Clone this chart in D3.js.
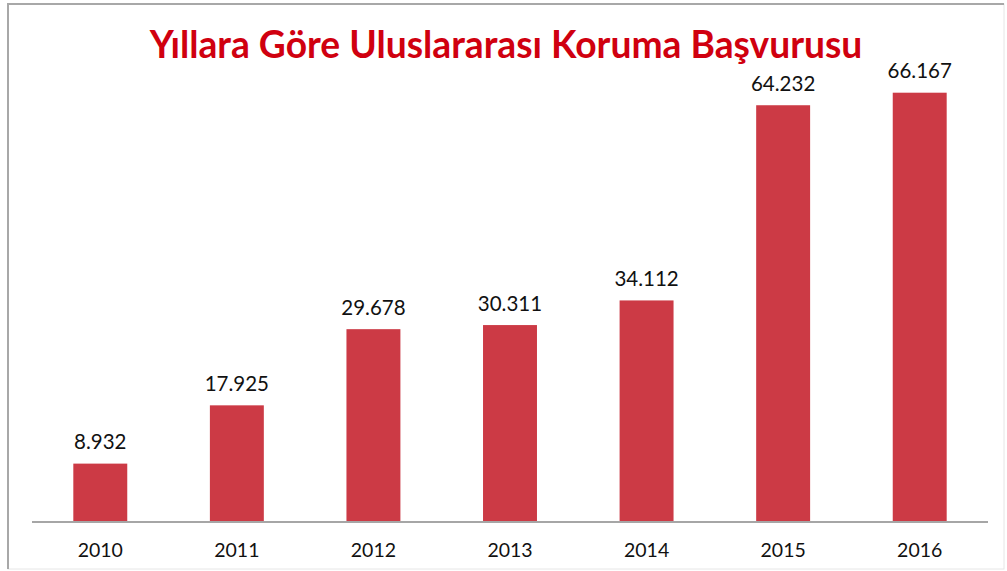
<!DOCTYPE html>
<html><head><meta charset="utf-8">
<script src="https://cdn.jsdelivr.net/npm/d3@7"></script>
<style>html,body{margin:0;padding:0;background:#fff;}svg{display:block;}</style>
</head><body>
<svg id="c" width="1007" height="571"></svg>
<script>
const title = "Yıllara Göre Uluslararası Koruma Başvurusu";
const years = ["2010","2011","2012","2013","2014","2015","2016"];
const values = [8932, 17925, 29678, 30311, 34112, 64232, 66167];
const valueLabels = ["8.932","17.925","29.678","30.311","34.112","64.232","66.167"];

const svg = d3.select("#c");
const W = 1007, H = 571;
svg.append("rect").attr("x",0).attr("y",0).attr("width",W).attr("height",H).attr("fill","#fff");
// frame
svg.append("rect").attr("x",8).attr("y",4).attr("width",996).attr("height",565)
  .attr("fill","none").attr("stroke","#e6e6e6").attr("stroke-width",1);
svg.append("line").attr("x1",8).attr("x2",1004).attr("y1",4).attr("y2",4).attr("stroke","#a8a8a8").attr("stroke-width",2);
svg.append("line").attr("x1",8).attr("x2",8).attr("y1",3).attr("y2",569).attr("stroke","#a8a8a8").attr("stroke-width",2);

const baseY = 521.5;
const x = d3.scaleBand().domain(years).range([32, 988]).paddingInner(0.605).paddingOuter(0.3025);
const y = d3.scaleLinear().domain([0, 66167]).range([baseY, 92.7]);

const font = "Lato, 'Open Sans', sans-serif";

svg.append("g").selectAll("rect").data(values).join("rect")
  .attr("x",(d,i)=>x(years[i])).attr("width",x.bandwidth())
  .attr("y",d=>y(d)).attr("height",d=>baseY-y(d))
  .attr("fill","#cc3a45");

svg.append("line").attr("x1",32).attr("x2",988).attr("y1",baseY+0.5).attr("y2",baseY+0.5)
  .attr("stroke","#a6a6a6").attr("stroke-width",2);

svg.append("g").selectAll("text").data(values).join("text")
  .attr("x",(d,i)=>x(years[i])+x.bandwidth()/2).attr("y",d=>y(d)-14.5)
  .attr("text-anchor","middle").attr("font-family",font).attr("font-size",20.5)
  .attr("fill","#111").text((d,i)=>valueLabels[i]);

const xAxis = d3.axisBottom(x).tickSize(0).tickPadding(0);
const ax = svg.append("g").attr("transform",`translate(0,${baseY})`).call(xAxis);
ax.select(".domain").remove();
ax.selectAll("text").attr("dy",null).attr("y",35.5).attr("font-family",font).attr("font-size",19.5).attr("fill","#111");

svg.append("text").attr("x",506).attr("y",58).attr("text-anchor","middle")
  .attr("font-family",font).attr("font-weight","bold").attr("font-size",37.2)
  .attr("fill","#d0000f").text(title);
</script>
</body></html>
